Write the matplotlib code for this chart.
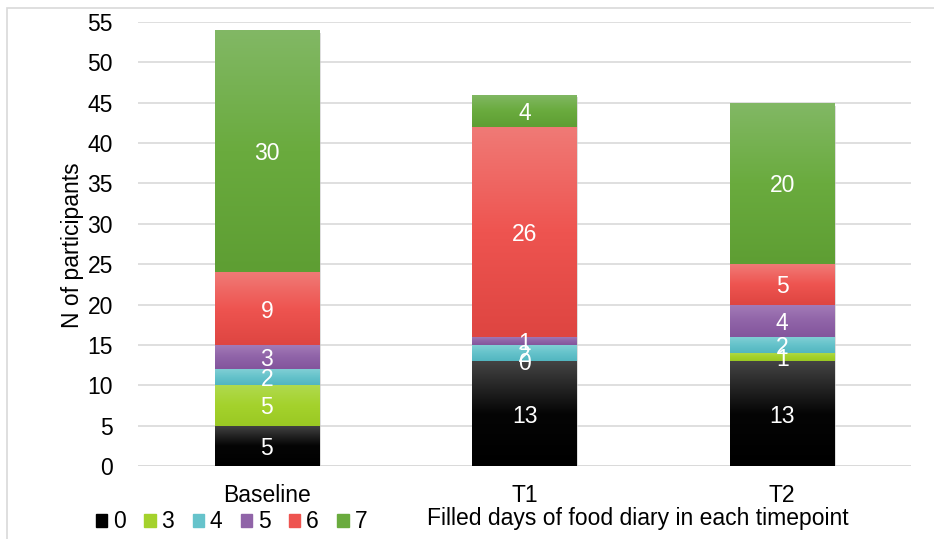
import numpy as np
import matplotlib.pyplot as plt
from matplotlib.colors import LinearSegmentedColormap
from matplotlib.patches import Rectangle

plt.rcParams['font.family'] = ['Liberation Sans', 'DejaVu Sans']

timepoints = ['Baseline', 'T1', 'T2']
day_groups = ['0', '3', '4', '5', '6', '7']
counts = {
    '0': [5, 13, 13],
    '3': [5, 0, 1],
    '4': [2, 2, 2],
    '5': [3, 1, 4],
    '6': [9, 26, 5],
    '7': [30, 4, 20],
}
# top / middle / bottom colours of each segment gradient
grad_colors = {
    '0': ['#444444', '#050505', '#000000'],
    '3': ['#b0da4e', '#a4d22c', '#9ac823'],
    '4': ['#84d0d6', '#66c3cb', '#52b6c0'],
    '5': ['#a47cb8', '#9064a8', '#83559c'],
    '6': ['#f07a76', '#ee5450', '#de4541'],
    '7': ['#82b865', '#6aab3e', '#5e9e33'],
}
legend_colors = {'0': '#000000', '3': '#a4d22c', '4': '#66c3cb',
                 '5': '#9064a8', '6': '#ee5450', '7': '#6aab3e'}

FS = 16.5

fig = plt.figure(figsize=(9.34, 5.39), dpi=100)
ax = fig.add_axes([138 / 934, 1 - 466 / 539, (911 - 138) / 934, (466 - 22) / 539])

x = np.arange(len(timepoints))
width = 0.405
bottom = np.zeros(len(timepoints))
grad = np.linspace(1, 0, 256).reshape(-1, 1)

for g in day_groups:
    vals = np.array(counts[g], dtype=float)
    cmap = LinearSegmentedColormap.from_list('c' + g, grad_colors[g][::-1])
    bars = ax.bar(x, vals, width, bottom=bottom, color='none', edgecolor='none', zorder=3)
    for rect, v, b in zip(bars, vals, bottom):
        if v > 0:
            x0 = rect.get_x()
            im = ax.imshow(grad[::-1], cmap=cmap, aspect='auto', zorder=3,
                           extent=[x0, x0 + width, b, b + v], origin='lower')
            im.set_clip_path(rect)
        ax.text(rect.get_x() + width / 2, b + v / 2, f'{int(v)}', color='white',
                ha='center', va='center_baseline', fontsize=FS, zorder=5)
    bottom += vals

# soft shadow behind bars
for xi, tot in zip(x, bottom):
    ax.add_patch(Rectangle((xi - width / 2 + 0.006, -0.35), width, tot, color='#c8c8c8',
                           alpha=0.6, zorder=2, lw=0))

ax.set_xlim(-0.5, 2.5)
ax.set_ylim(0, 55)
ax.set_yticks(np.arange(0, 56, 5))
ax.set_xticks(x)
ax.set_xticklabels(timepoints)
ax.tick_params(axis='both', length=0, labelsize=FS, colors='black')
ax.tick_params(axis='x', pad=13)
ax.tick_params(axis='y', pad=18)
ax.grid(axis='y', color='#d9d9d9', linewidth=1.2, zorder=0)
ax.set_axisbelow(True)
for s in ax.spines.values():
    s.set_visible(False)
ax.axhline(0, color='#d9d9d9', linewidth=1.2, zorder=1)

fig.text(72 / 934, 1 - 245 / 539, 'N of participants', rotation=90, ha='center', va='center',
         fontsize=FS)
fig.text(638 / 934, 1 - 519 / 539, 'Filled days of food diary in each timepoint',
         ha='center', va='center', fontsize=FS)

handles = [Rectangle((0, 0), 1, 1, color=legend_colors[g]) for g in day_groups]
fig.legend(handles, day_groups, loc='center left', bbox_to_anchor=(96 / 934, 1 - 522 / 539),
           ncol=6, frameon=False, fontsize=FS, handlelength=0.5, handleheight=0.5,
           handletextpad=0.25, columnspacing=0.8, borderaxespad=0, borderpad=0)

fig.patches.append(Rectangle((7 / 934, -0.01), 1.0, 1 - 8 / 539 + 0.01, transform=fig.transFigure,
                             fill=False, edgecolor='#d9d9d9', linewidth=1.2))

fig.savefig('out.png', dpi=100)
